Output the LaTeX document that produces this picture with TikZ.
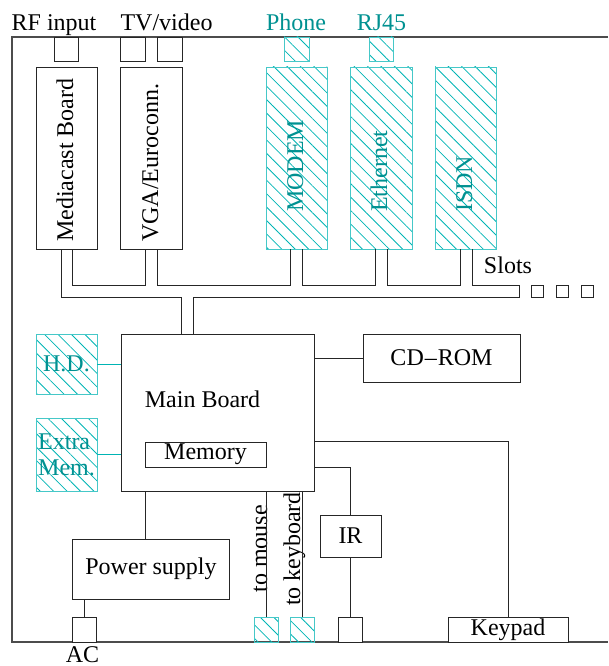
\documentclass[tikz,border=0pt]{standalone}
\usepackage{fontspec}
\setmainfont{Liberation Serif}
\usetikzlibrary{patterns.meta}
\definecolor{tealtext}{RGB}{0,145,145}
\definecolor{hatchc}{RGB}{0,180,180}
\definecolor{hatchb}{RGB}{70,200,200}
\begin{document}
\begin{tikzpicture}[x=1pt,y=-1pt,
  font=\fontsize{24}{28}\selectfont,
  wire/.style={draw=black!85, line width=0.9pt},
  tealwire/.style={draw=hatchc, line width=0.9pt},
  frame/.style={draw=black!70, line width=1.2pt},
  box/.style={draw=black!85, line width=0.9pt, inner sep=0pt, fill=white},
  hbox/.style={draw=hatchb, line width=0.9pt, inner sep=0pt,
    pattern={Lines[angle=-45,distance=9.5pt,line width=0.8pt]}, pattern color=hatchc},
  sz/.style 2 args={minimum width=#1pt, minimum height=#2pt},
  lbl/.style={inner sep=0pt},
  tlbl/.style={inner sep=0pt, text=tealtext},
  vlbl/.style={inner sep=0pt, rotate=90, anchor=base west},
]
\useasboundingbox (0,0) rectangle (608,666);

% frame
\draw[frame] (608,37) -- (12,37) -- (12,642) -- (608,642);

% top connectors
\node[box, sz={24}{24}] (rf) at (66,49) {};
\node[box, sz={25}{24}] (tv1) at (132.5,49) {};
\node[box, sz={25}{24}] (tv2) at (169.5,49) {};
\node[hbox, sz={25}{24}] (phone) at (296.5,49) {};
\node[hbox, sz={24}{24}] (rj) at (381,49) {};

\node[lbl, anchor=base] (rflbl) at (54,31) {RF input};
\node[lbl, anchor=base] (tvlbl) at (166.5,31) {TV/video};
\node[tlbl, anchor=base] (phonelbl) at (296,31) {Phone};
\node[tlbl, anchor=base] (rjlbl) at (381.5,31) {RJ45};

% cards
\node[box, sz={61}{182}] (media) at (66.5,158) {};
\node[box, sz={62}{182}] (vga) at (151,158) {};
\node[hbox, sz={61}{182}] (modem) at (296.5,158) {};
\node[hbox, sz={62}{182}] (eth) at (381,158) {};
\node[hbox, sz={61}{182}] (isdn) at (465.5,158) {};

\node[vlbl] (medialbl) at (73,242) {Mediacast Board};
\node[vlbl] (vgalbl) at (158,242) {VGA/Euroconn.};
\node[vlbl, text=tealtext] (modemlbl) at (303,212) {MODEM};
\node[vlbl, text=tealtext] (ethlbl) at (387,212) {Ethernet};
\node[vlbl, text=tealtext] (isdnlbl) at (472,212) {ISDN};

% slots
\node[lbl, anchor=base] (slotslbl) at (508,273) {Slots};
\node[box, sz={12}{12}] (s1) at (537.5,291) {};
\node[box, sz={12}{12}] (s2) at (562,291) {};
\node[box, sz={12}{12}] (s3) at (587,291) {};

% main board and peripherals
\node[box, sz={193}{157}] (main) at (217.5,412.5) {};
\node[lbl] (mainlbl) at (202.5,399) {Main Board};
\node[box, sz={121}{25}] (memory) at (205.5,454.5) {Memory};
\node[hbox, sz={61}{60}, text=tealtext] (hd) at (66.5,364) {H.D.};
\node[hbox, sz={61}{73}, text=tealtext, align=left, font=\fontsize{24}{26}\selectfont] (extra) at (66.5,454.5) {Extra\\Mem.};
\node[box, sz={157}{48}] (cdrom) at (441.5,358) {CD\kern1pt--\kern1ptROM};
\node[box, sz={61}{42}] (ir) at (350.5,536) {IR};
\node[box, sz={157}{60}] (power) at (151,569) {Power supply};

% bottom connectors
\node[box, sz={24}{25}] (acsq) at (84.5,629.5) {};
\node[hbox, sz={24}{25}] (mouse) at (266,629.5) {};
\node[hbox, sz={24}{25}] (kbd) at (302,629.5) {};
\node[box, sz={24}{25}] (irsq) at (350.5,629.5) {};
\node[box, sz={120}{25}] (keypad) at (508,629.5) {Keypad};
\node[lbl, anchor=base] (aclbl) at (82.5,662) {AC};

\node[vlbl, anchor=base] (mouselbl) at (267,549) {to mouse};
\node[vlbl, anchor=base] (kbdlbl) at (300,549) {to keyboard};

% bus
\draw[wire] ([xshift=-5.5pt]media.south) -- (61,297) -- (181,297) -- ([xshift=-36.5pt]main.north);
\draw[wire] ([xshift=-24.5pt]main.north) -- (193,297) -- (519,297) -- (519,285) -- (472,285) -- ([xshift=6.5pt]isdn.south);
\draw[wire] ([xshift=-5.5pt]isdn.south) -- (460,285) -- (387,285) -- ([xshift=6pt]eth.south);
\draw[wire] ([xshift=-6pt]eth.south) -- (375,285) -- (302,285) -- ([xshift=5.5pt]modem.south);
\draw[wire] ([xshift=-6.5pt]modem.south) -- (290,285) -- (157,285) -- ([xshift=6pt]vga.south);
\draw[wire] ([xshift=-6pt]vga.south) -- (145,285) -- (72.5,285) -- ([xshift=6pt]media.south);

% main board links
\draw[tealwire] (hd.east) -- (hd.east -| main.west);
\draw[tealwire] (extra.east) -- (extra.east -| main.west);
\draw[wire] (cdrom.west) -- (cdrom.west -| main.east);
\draw[wire] (main.east |- memory.north) -| (keypad.north);
\draw[wire] (main.east |- memory.south) -| (ir.north);
\draw[wire] (ir.south) -- (irsq.north);
\draw[wire] ([xshift=-6pt]power.north) -- ([xshift=-6pt]power.north |- main.south);
\draw[wire] (acsq.north) -- (acsq.north |- power.south);
\draw[wire] (mouse.north) -- (mouse.north |- main.south);
\draw[wire] (kbd.north) -- (kbd.north |- main.south);
\end{tikzpicture}
\end{document}
